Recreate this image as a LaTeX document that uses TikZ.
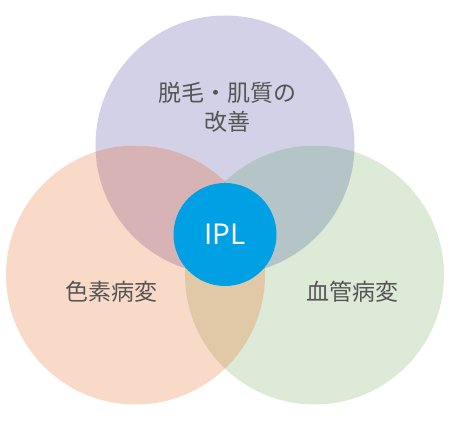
\documentclass[tikz,border=0pt]{standalone}
\usepackage{fontspec}
\setmainfont{Noto Sans CJK JP}
\definecolor{ringpurple}{HTML}{D3D1E8}
\definecolor{ringpeach}{HTML}{F9DAC8}
\definecolor{ringgreen}{HTML}{DDEAD7}
\definecolor{mixpp}{HTML}{D8B3B6}
\definecolor{mixpg}{HTML}{B5C4C7}
\definecolor{mixeg}{HTML}{E1C9A7}
\definecolor{mixall}{HTML}{C2AA9E}
\definecolor{iplblue}{HTML}{00A0E4}
\definecolor{textgray}{HTML}{555555}
\begin{document}
\begin{tikzpicture}[
    x=1pt, y=-1pt,
    ring/.style={circle, minimum size=259pt, inner sep=0pt, outer sep=0pt},
    core/.style={circle, fill=iplblue, minimum size=103pt, inner sep=0pt, text=white, font=\fontsize{28}{30}\selectfont},
    areatext/.style={font=\fontsize{23}{29}\selectfont, text=textgray, align=center}
]
\useasboundingbox (0,0) rectangle (450,430);

% Three big circles
\node[ring, fill=ringpurple] (hair)   at (225, 145) {};
\node[ring, fill=ringpeach]  (pigm)   at (135.5, 275) {};
\node[ring, fill=ringgreen]  (vessel) at (314.5, 275) {};

% Overlaps (clipped)
\begin{scope}
  \clip (hair.center) circle[radius=129.5];
  \fill[mixpp] (pigm.center) circle[radius=129.5];
\end{scope}
\begin{scope}
  \clip (hair.center) circle[radius=129.5];
  \fill[mixpg] (vessel.center) circle[radius=129.5];
\end{scope}
\begin{scope}
  \clip (pigm.center) circle[radius=129.5];
  \fill[mixeg] (vessel.center) circle[radius=129.5];
\end{scope}
\begin{scope}
  \clip (hair.center) circle[radius=129.5];
  \clip (pigm.center) circle[radius=129.5];
  \fill[mixall] (vessel.center) circle[radius=129.5];
\end{scope}

% Center
\node[core] (ipl) at (225, 234.5) {IPL};

% Labels
\node[areatext] (hairtext)   at (227, 107) {脱毛・肌質の\\改善};
\node[areatext] (pigmtext)   at (111, 292) {色素病変};
\node[areatext] (vesseltext) at (352.5, 292) {血管病変};

\end{tikzpicture}
\end{document}
